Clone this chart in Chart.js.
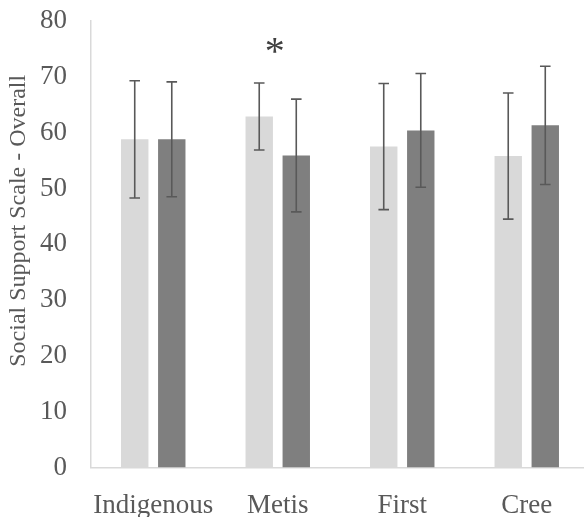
<!DOCTYPE html>
<html>
<head>
<meta charset="utf-8">
<script src="https://cdn.jsdelivr.net/npm/chart.js@4/dist/chart.umd.min.js"></script>
<style>
  html, body { margin: 0; padding: 0; background: #ffffff; overflow: hidden; }
  /* plot runs slightly past the right edge of the page, so the last group sits a bit wider */
  #wrap { width: 589px; height: 517px; position: relative; }
</style>
</head>
<body>
<div id="wrap"><canvas id="chart"></canvas></div>
<script>
// Group labels along the x axis
const categories = ['Indigenous', 'Metis', 'First', 'Cree'];

// Mean scores for the two groups in each category
const seriesA = [58.8, 62.9, 57.5, 55.8];
const seriesB = [58.8, 55.9, 60.4, 61.3];

// Error-bar half-widths (± around each mean)
const errorsA = [10.5, 6.0, 11.3, 11.3];
const errorsB = [10.3, 10.1, 10.2, 10.6];

// Significance markers: category index and the value height where the mark sits
const markers = [{ index: 1, value: 75.4, text: '*' }];

const yTicks = [0, 10, 20, 30, 40, 50, 60, 70, 80];
const yTitle = 'Social Support Scale - Overall';

const FONT = "'Liberation Serif', 'Times New Roman', serif";
const TEXT = '#595959';

// Draws the whisker + caps for each bar, through the chart's own scales
const errorBars = {
  id: 'errorBars',
  afterDatasetsDraw(chart) {
    const ctx = chart.ctx;
    const y = chart.scales.y;
    ctx.save();
    ctx.strokeStyle = '#595959';
    ctx.lineWidth = 1.6;
    chart.data.datasets.forEach((ds, di) => {
      const meta = chart.getDatasetMeta(di);
      meta.data.forEach((bar, i) => {
        const v = ds.data[i];
        const e = ds.errors[i];
        const yTop = y.getPixelForValue(v + e);
        const yBot = y.getPixelForValue(v - e);
        const cap = 5.3;
        ctx.beginPath();
        ctx.moveTo(bar.x, yTop);
        ctx.lineTo(bar.x, yBot);
        ctx.moveTo(bar.x - cap, yTop);
        ctx.lineTo(bar.x + cap, yTop);
        ctx.moveTo(bar.x - cap, yBot);
        ctx.lineTo(bar.x + cap, yBot);
        ctx.stroke();
      });
    });
    ctx.restore();
  }
};

// Asterisk(s) marking significant differences
const sigMarks = {
  id: 'sigMarks',
  afterDatasetsDraw(chart) {
    const ctx = chart.ctx;
    const x = chart.scales.x;
    const y = chart.scales.y;
    ctx.save();
    ctx.fillStyle = '#404040';
    ctx.font = `40px ${FONT}`;
    ctx.textAlign = 'center';
    ctx.textBaseline = 'middle';
    markers.forEach(m => {
      ctx.fillText(m.text, x.getPixelForValue(m.index) - 3, y.getPixelForValue(m.value) + 7);
    });
    ctx.restore();
  }
};

// Vertical axis title, sitting a little above the middle of the value axis
const axisTitle = {
  id: 'axisTitle',
  afterDraw(chart) {
    const ctx = chart.ctx;
    const y = chart.scales.y;
    ctx.save();
    ctx.fillStyle = TEXT;
    ctx.font = `24px ${FONT}`;
    ctx.textAlign = 'center';
    ctx.textBaseline = 'alphabetic';
    ctx.translate(25, y.getPixelForValue(44.2));
    ctx.rotate(-Math.PI / 2);
    ctx.fillText(yTitle, 0, 0);
    ctx.restore();
  }
};

new Chart(document.getElementById('chart'), {
  type: 'bar',
  data: {
    labels: categories,
    datasets: [
      { label: 'A', data: seriesA, errors: errorsA, backgroundColor: '#d9d9d9',
        categoryPercentage: 0.595, barPercentage: 0.74 },
      { label: 'B', data: seriesB, errors: errorsB, backgroundColor: '#7f7f7f',
        categoryPercentage: 0.595, barPercentage: 0.74 }
    ]
  },
  options: {
    responsive: true,
    maintainAspectRatio: false,
    animation: false,
    layout: { padding: { top: 21, right: 0, left: 0, bottom: 0 } },
    plugins: {
      legend: { display: false },
      tooltip: { enabled: false }
    },
    scales: {
      x: {
        grid: { display: false, drawTicks: false },
        border: { display: true, color: '#d9d9d9', width: 1.5 },
        ticks: { color: TEXT, font: { family: FONT, size: 27 }, padding: 22,
                 maxRotation: 0, minRotation: 0, autoSkip: false },
        afterFit(scale) { scale.height = 49.5; scale.paddingLeft = 0; scale.paddingRight = 0; }
      },
      y: {
        min: 0,
        max: 80,
        afterBuildTicks(scale) { scale.ticks = yTicks.map(v => ({ value: v })); },
        grid: { display: false, drawTicks: false },
        border: { display: true, color: '#d9d9d9', width: 1.5 },
        ticks: { color: TEXT, font: { family: FONT, size: 27 }, padding: 24 },
        title: { display: false },
        afterFit(scale) { scale.width = 91; scale.paddingTop = 0; scale.paddingBottom = 0; }
      }
    }
  },
  plugins: [errorBars, sigMarks, axisTitle]
});
</script>
</body>
</html>
